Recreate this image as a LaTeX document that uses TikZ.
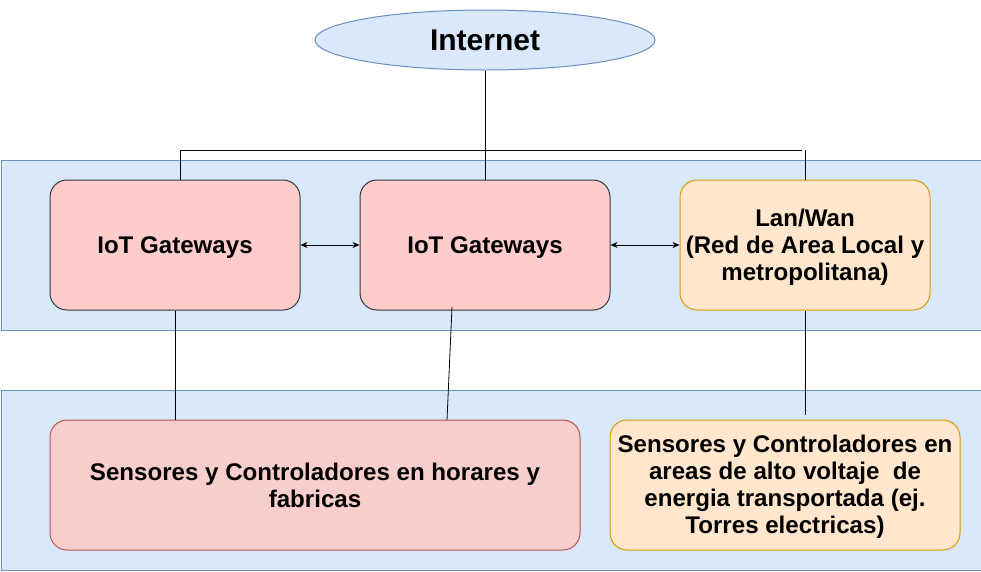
\documentclass[tikz,border=0pt]{standalone}
\usepackage{fontspec}
\setmainfont{Liberation Sans}
\usetikzlibrary{arrows.meta,shapes.geometric}
\definecolor{bandfill}{HTML}{DAE8FC}
\definecolor{bandline}{HTML}{6C8EBF}
\definecolor{gwfill}{HTML}{FFCCCC}
\definecolor{gwline}{HTML}{36393D}
\definecolor{redfill}{HTML}{F8CECC}
\definecolor{redline}{HTML}{B85450}
\definecolor{orfill}{HTML}{FFE6CC}
\definecolor{orline}{HTML}{D79B00}
\tikzset{
  band/.style={draw=bandline, fill=bandfill, line width=1pt, minimum width=980pt, inner sep=0pt, anchor=north west},
  box/.style={rounded corners=17pt, line width=1pt, inner sep=0pt},
  txt/.style={align=center, inner sep=0pt, font=\fontsize{24.1pt}{27pt}\selectfont\bfseries},
  gw/.style={box, draw=gwline, fill=gwfill},
  rbox/.style={box, draw=redline, fill=redfill},
  obox/.style={box, draw=orline, fill=orfill},
  conn/.style={line width=0.8pt, black},
  dbl/.style={conn, {Stealth[length=7pt,width=6pt]}-{Stealth[length=7pt,width=6pt]}}
}
\begin{document}
\begin{tikzpicture}[x=1pt,y=-1pt]
\useasboundingbox (0,0) rectangle (981,571);
\node[band, minimum height=170pt] (topband) at (0.5,160) {};
\node[band, minimum height=180pt] (botband) at (0.5,390) {};
\node[ellipse, draw=bandline, fill=bandfill, line width=1pt, minimum width=340pt, minimum height=60pt, inner sep=0pt,
  font=\fontsize{30pt}{34pt}\selectfont\bfseries] (inet) at (485,40) {Internet};
\node[gw, minimum width=250pt, minimum height=130pt] (g1) at (175,245) {};
\node[txt, yshift=-3pt] (g1t) at (g1.center) {IoT Gateways};
\node[gw, minimum width=250pt, minimum height=130pt] (g2) at (485,245) {};
\node[txt, yshift=-3pt] (g2t) at (g2.center) {IoT Gateways};
\node[obox, minimum width=250pt, minimum height=130pt] (lan) at (805,245) {};
\node[txt, yshift=-2pt] (lant) at (lan.center) {Lan/Wan\\(Red de Area Local y\\metropolitana)};
\node[rbox, minimum width=530pt, minimum height=130pt] (s1) at (315,485) {};
\node[txt] (s1t) at (s1.center) {Sensores y Controladores en horares y\\fabricas};
\node[obox, minimum width=350pt, minimum height=130pt] (s2) at (785,485) {};
\node[txt, yshift=-1.5pt] (s2t) at (s2.center) {Sensores y Controladores en\\areas de alto voltaje\ \ de\\energia transportada (ej.\\Torres electricas)};
% connectors
\coordinate (bl) at (180,150);
\coordinate (br) at (802,150);
\coordinate (br2) at (805,150);
\draw[conn] (inet.south) -- (g2.north);
\draw[conn] (bl |- g1.north) -- (bl) -- (br);
\draw[conn] (br2) -- (lan.north);
\draw[dbl] (g1.east) -- (g2.west);
\draw[dbl] (g2.east) -- (lan.west);
\draw[conn] (g1.south) -- (g1.south |- s1.north);
\coordinate (g2b) at (452,307);
\coordinate (s1top) at (447,420);
\draw[conn] (g2b) -- (s1top);
\coordinate (lanend) at (805,415);
\draw[conn] (lan.south) -- (lanend);
\end{tikzpicture}
\end{document}
